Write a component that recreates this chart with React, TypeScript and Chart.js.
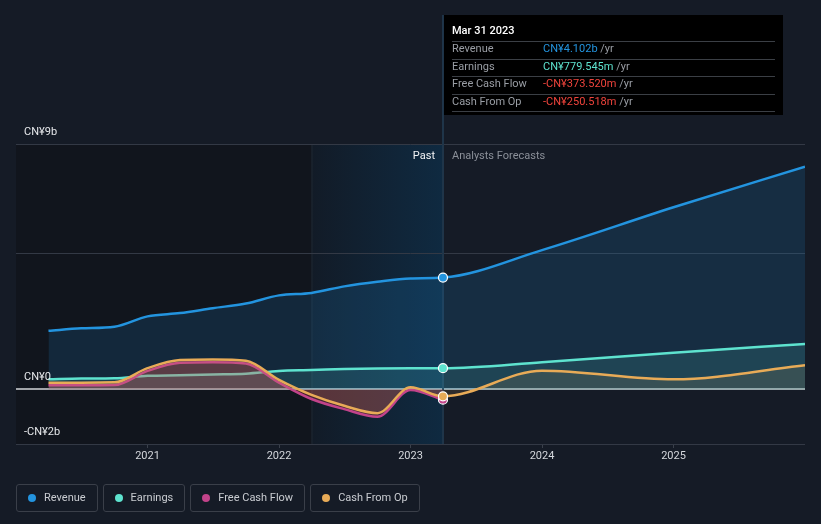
import React, { useEffect, useRef } from "react";
import { Chart, registerables } from "chart.js";

Chart.register(...registerables);

// Quarter-end dates as decimal years (Mar 31 2020 ... Mar 31 2023), then analyst forecast years
const pastDates = [2020.247, 2020.496, 2020.748, 2021.0, 2021.247, 2021.496, 2021.748, 2022.0, 2022.247, 2022.496, 2022.748, 2023.0, 2023.247];
const forecastDates = [2024.0, 2025.0, 2026.0];

// values in CN¥ billions
const revenuePast = [2.15, 2.24, 2.3, 2.68, 2.8, 2.98, 3.15, 3.45, 3.54, 3.78, 3.95, 4.07, 4.102];
const revenueForecast = [5.11, 6.68, 8.17];
const earningsPast = [0.37, 0.4, 0.41, 0.5, 0.52, 0.55, 0.58, 0.68, 0.71, 0.75, 0.77, 0.78, 0.7795];
const earningsForecast = [1.0, 1.35, 1.67];
const fcfPast = [0.15, 0.15, 0.16, 0.68, 0.98, 1.0, 0.95, 0.25, -0.35, -0.72, -1.0, -0.02, -0.3735];
const cfoPast = [0.25, 0.25, 0.26, 0.78, 1.08, 1.1, 1.05, 0.35, -0.2, -0.6, -0.87, 0.08, -0.2505];
const cfoForecast = [0.69, 0.37, 0.89];

const xTicks = [2021, 2022, 2023, 2024, 2025];
const yTicks = [-2, 0, 5, 9];
const yLabelValues = [9, 0, -2];
const yLabelTexts = ["CN¥9b", "CN¥0", "-CN¥2b"];

const forecastStart = 2022.247;
const pastEnd = 2023.247;

const tooltipTitle = "Mar 31 2023";
const tooltipLabels = ["Revenue", "Earnings", "Free Cash Flow", "Cash From Op"];
const tooltipValues = ["CN¥4.102b", "CN¥779.545m", "-CN¥373.520m", "-CN¥250.518m"];

const seriesNames = ["Revenue", "Earnings", "Free Cash Flow", "Cash From Op"];
const seriesColors = ["#2394df", "#5ee3cf", "#c2438a", "#e8ab57"];
const tooltipValueColors = ["#2394df", "#5ee3cf", "#f0443c", "#f0443c"];

const FONT = "Roboto, 'Open Sans', sans-serif";

function toPoints(past: number[], forecast?: number[]) {
  const pts = past.map((v, i) => ({ x: pastDates[i], y: v }));
  if (forecast) forecast.forEach((v, i) => pts.push({ x: forecastDates[i], y: v }));
  return pts;
}

const lastPastIdx = pastDates.length - 1;

export default function App() {
  const ref = useRef<HTMLCanvasElement | null>(null);

  useEffect(() => {
    if (!ref.current) return;

    const bgPlugin = {
      id: "bgPlugin",
      beforeDraw(chart: any) {
        const { ctx, chartArea, scales } = chart;
        const { left, top, bottom } = chartArea;
        const x1 = scales.x.getPixelForValue(forecastStart);
        const x2 = scales.x.getPixelForValue(pastEnd);
        ctx.save();
        ctx.fillStyle = "#151b26";
        ctx.fillRect(0, 0, chart.width, chart.height);
        ctx.fillStyle = "#11151d";
        ctx.fillRect(left, top, x1 - left, bottom - top);
        const g = ctx.createLinearGradient(x1, 0, x2, 0);
        g.addColorStop(0, "#121b27");
        g.addColorStop(1, "#0f2a41");
        ctx.fillStyle = g;
        ctx.fillRect(x1, top, x2 - x1, bottom - top);
        ctx.fillStyle = "rgba(255,255,255,0.06)";
        ctx.fillRect(x1, top, 1, bottom - top);
        ctx.restore();
      },
      beforeDatasetsDraw(chart: any) {
        const { ctx, chartArea, scales } = chart;
        const x2 = scales.x.getPixelForValue(pastEnd);
        ctx.save();
        ctx.fillStyle = "#1f3549";
        ctx.fillRect(Math.round(x2) - 1, 15, 2, chartArea.bottom - 15);
        ctx.restore();
      },
      afterDraw(chart: any) {
        const { ctx, chartArea, scales } = chart;
        const x2 = scales.x.getPixelForValue(pastEnd);
        ctx.save();
        // y labels
        ctx.font = `11px ${FONT}`;
        ctx.fillStyle = "#e6e8eb";
        ctx.textBaseline = "middle";
        ctx.textAlign = "left";
        yLabelValues.forEach((v, i) => {
          const y = scales.y.getPixelForValue(v);
          ctx.fillText(yLabelTexts[i], chartArea.left + 8, y - 12);
        });
        // Past / forecasts
        const ly = chartArea.top + 12;
        ctx.textAlign = "right";
        ctx.fillStyle = "#f2f3f5";
        ctx.fillText("Past", x2 - 8, ly);
        ctx.textAlign = "left";
        ctx.fillStyle = "#8b9099";
        ctx.fillText("Analysts Forecasts", x2 + 9, ly);

        // tooltip box
        const bx = x2 + 1;
        const bw = 339;
        ctx.fillStyle = "#000000";
        ctx.fillRect(bx, 15, bw, 100);
        ctx.fillStyle = "#ffffff";
        ctx.font = `500 11px ${FONT}`;
        ctx.fillText(tooltipTitle, bx + 8, 31);
        ctx.font = `11px ${FONT}`;
        const seps = [41, 58.5, 76, 93.5, 111];
        ctx.fillStyle = "#3b3f45";
        seps.forEach((s) => ctx.fillRect(bx + 8, Math.round(s), 323, 1));
        const rows = [49.5, 67, 84.5, 102];
        rows.forEach((ry, i) => {
          ctx.fillStyle = "#9a9ea5";
          ctx.fillText(tooltipLabels[i], bx + 8, ry);
          ctx.fillStyle = tooltipValueColors[i];
          const vx = bx + 99;
          ctx.fillText(tooltipValues[i], vx, ry);
          const w = ctx.measureText(tooltipValues[i]).width;
          ctx.fillStyle = "#9a9ea5";
          ctx.fillText(" /yr", vx + w, ry);
        });
        ctx.restore();
      },
    };

    const pointRadius = (c: any) => (c.dataIndex === lastPastIdx ? 4.5 : 0);

    const common = {
      pointRadius,
      pointHoverRadius: pointRadius,
      pointBorderColor: "#ffffff",
      pointBorderWidth: 1.2,
      borderWidth: 2.5,
      cubicInterpolationMode: "monotone" as const,
      fill: "origin",
    };

    const chart = new Chart(ref.current, {
      type: "line",
      data: {
        datasets: [
          {
            ...common,
            label: seriesNames[0],
            data: toPoints(revenuePast, revenueForecast),
            borderColor: seriesColors[0],
            pointBackgroundColor: seriesColors[0],
            backgroundColor: "rgba(33,140,220,0.16)",
            order: 4,
          },
          {
            ...common,
            label: seriesNames[1],
            data: toPoints(earningsPast, earningsForecast),
            borderColor: seriesColors[1],
            pointBackgroundColor: seriesColors[1],
            backgroundColor: "rgba(94,227,207,0.13)",
            order: 3,
          },
          {
            ...common,
            label: seriesNames[2],
            data: toPoints(fcfPast),
            borderColor: seriesColors[2],
            pointBackgroundColor: seriesColors[2],
            backgroundColor: "rgba(205,60,90,0.28)",
            order: 2,
          },
          {
            ...common,
            label: seriesNames[3],
            data: toPoints(cfoPast, cfoForecast),
            borderColor: seriesColors[3],
            pointBackgroundColor: seriesColors[3],
            backgroundColor: "rgba(232,171,87,0.12)",
            order: 1,
          },
        ],
      },
      options: {
        animation: false,
        responsive: false,
        devicePixelRatio: 1,
        events: [],
        layout: { padding: { left: 16, right: 16, top: 144, bottom: 0 } },
        plugins: {
          legend: { display: false },
          tooltip: { enabled: false },
        },
        scales: {
          x: {
            type: "linear",
            min: 2020,
            max: 2026,
            afterBuildTicks: (s: any) => {
              s.ticks = xTicks.map((v) => ({ value: v }));
            },
            afterFit: (s: any) => {
              s.height = 80;
            },
            ticks: {
              color: "#d4d7dc",
              font: { family: FONT, size: 11 },
              padding: 2,
              maxRotation: 0,
              autoSkip: false,
              callback: (v: any) => String(v),
            },
            grid: {
              drawOnChartArea: false,
              drawTicks: true,
              tickLength: 4,
              color: "#3a404b",
            },
            border: { display: false },
          },
          y: {
            type: "linear",
            min: -2,
            max: 9,
            afterBuildTicks: (s: any) => {
              s.ticks = yTicks.map((v) => ({ value: v }));
            },
            afterFit: (s: any) => {
              s.width = 0;
            },
            ticks: { display: false },
            grid: {
              drawTicks: false,
              color: (c: any) => (c.tick && c.tick.value === 0 ? "#a2a5aa" : "#333945"),
              lineWidth: (c: any) => (c.tick && c.tick.value === 0 ? 2 : 1),
            },
            border: { display: false },
          },
        },
      } as any,
      plugins: [bgPlugin],
    });

    return () => chart.destroy();
  }, []);

  return (
    <div
      style={{
        position: "absolute",
        left: 0,
        top: 0,
        width: 821,
        height: 524,
        background: "#151b26",
        overflow: "hidden",
        fontFamily: FONT,
      }}
    >
      <canvas ref={ref} width={821} height={524} style={{ position: "absolute", left: 0, top: 0 }} />
      <div
        style={{
          position: "absolute",
          left: 16,
          top: 484,
          display: "flex",
          gap: 5,
        }}
      >
        {seriesNames.map((n, i) => (
          <div
            key={n}
            style={{
              height: 26,
              border: "1px solid #3a3f49",
              borderRadius: 3,
              display: "flex",
              alignItems: "center",
              paddingLeft: 11,
              paddingRight: 11,
              boxSizing: "content-box",
            }}
          >
            <span
              style={{
                width: 8,
                height: 8,
                borderRadius: 4,
                background: seriesColors[i],
                display: "inline-block",
                marginRight: 8,
              }}
            />
            <span style={{ color: "#c9ccd1", fontSize: 11, lineHeight: "14px" }}>{n}</span>
          </div>
        ))}
      </div>
    </div>
  );
}
